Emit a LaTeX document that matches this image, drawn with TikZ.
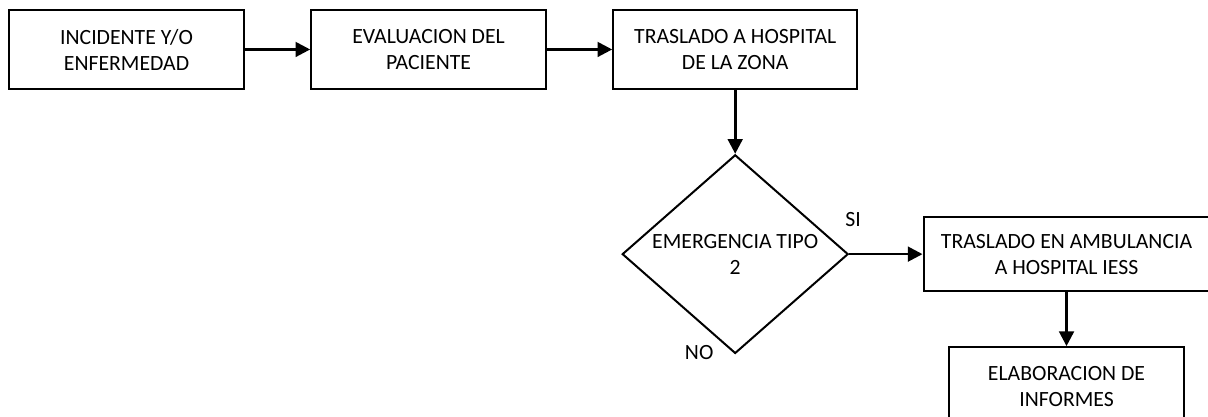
\documentclass[tikz,border=0pt]{standalone}
\usepackage{fontspec}
\setmainfont{Carlito}
\usetikzlibrary{arrows.meta,shapes.geometric,positioning}

\begin{document}
\begin{tikzpicture}[
  node distance = 48pt and 49pt,
  > = {Triangle[length=11pt,width=11pt]},
  txt/.style  = {font=\fontsize{16.3}{19.5}\selectfont},
  box/.style  = {rectangle, draw, line width=1.5pt, align=center, txt,
                 minimum width=176pt, minimum height=59pt, inner sep=4pt},
  dec/.style  = {diamond, draw, line width=1.5pt, align=center, txt,
                 inner sep=0pt, shape aspect=1.14,
                 minimum width=169.5pt, minimum height=149pt},
  lbl/.style  = {txt, inner sep=0pt},
  flow/.style = {->, line width=2pt}
]
\useasboundingbox (-94.9pt,37.1pt) rectangle (811.1pt,-275.6pt);

% ───────── 1st row ─────────
\node[box] (inc) {INCIDENTE Y/O\\ENFERMEDAD};
\node[box, right=of inc] (eval) {EVALUACION DEL\\PACIENTE};
\node[box, right=of eval, minimum width=183pt] (tras) {TRASLADO A HOSPITAL\\DE LA ZONA};

% ───────── decision ─────────
\node[dec, below=48pt of tras] (emer) {EMERGENCIA TIPO\\2};
\node[lbl] (si) at ([shift={(3pt,26pt)}]emer.east) {SI};
\node[lbl] (no) at ([shift={(-27pt,1.5pt)}]emer.south) {NO};

% ───────── right column ─────────
\node[box, right=55pt of emer, minimum width=214.5pt, minimum height=55.5pt] (amb)
  {TRASLADO EN AMBULANCIA\\A HOSPITAL IESS};
\node[box, below=40.5pt of amb] (inf) {ELABORACION DE\\INFORMES};

% ───────── arrows ──────────
\draw[flow] (inc)  -- (eval);
\draw[flow] (eval) -- (tras);
\draw[flow] (tras) -- (emer);
\draw[flow] (emer) -- (amb);
\draw[flow] (amb)  -- (inf);
\end{tikzpicture}
\end{document}
